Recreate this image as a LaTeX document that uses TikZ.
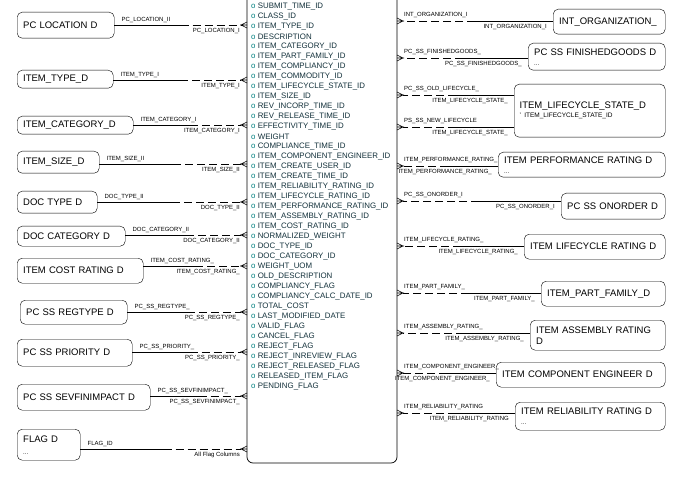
\documentclass[tikz,border=0pt]{standalone}
\usepackage{fontspec}
\setmainfont{Liberation Sans}
\begin{document}
\begin{tikzpicture}[x=1pt,y=-1pt,
  ent/.style={draw,rounded corners=5pt,anchor=north west,inner xsep=5pt,font=\fontsize{9.5}{11}\selectfont,align=left},
  lab/.style={font=\fontsize{6}{7}\selectfont,inner sep=1pt},
  item/.style={font=\fontsize{7.9}{9}\selectfont,anchor=west,inner sep=0pt,text=itc},
  conn/.style={line width=0.6pt},
  dsh/.style={line width=0.6pt,dash pattern=on 8pt off 4pt}]
\definecolor{itc}{RGB}{20,50,60}
\definecolor{oc}{RGB}{0,128,128}
\useasboundingbox (0,0) rectangle (679,478);
\fill[white] (0,0) rectangle (679,478);
% central table
\draw[line width=0.7pt,rounded corners=6pt] (247,-10) -- (247,463) -- (397,463) -- (397,-10);
\node[inner sep=0pt] (tbl) at (322,230) {};
\foreach \t [count=\i] in {SUBMIT\_TIME\_ID,CLASS\_ID,ITEM\_TYPE\_ID,DESCRIPTION,ITEM\_CATEGORY\_ID,ITEM\_PART\_FAMILY\_ID,ITEM\_COMPLIANCY\_ID,ITEM\_COMMODITY\_ID,ITEM\_LIFECYCLE\_STATE\_ID,ITEM\_SIZE\_ID,REV\_INCORP\_TIME\_ID,REV\_RELEASE\_TIME\_ID,EFFECTIVITY\_TIME\_ID,WEIGHT,COMPLIANCE\_TIME\_ID,ITEM\_COMPONENT\_ENGINEER\_ID,ITEM\_CREATE\_USER\_ID,ITEM\_CREATE\_TIME\_ID,ITEM\_RELIABILITY\_RATING\_ID,ITEM\_LIFECYCLE\_RATING\_ID,ITEM\_PERFORMANCE\_RATING\_ID,ITEM\_ASSEMBLY\_RATING\_ID,ITEM\_COST\_RATING\_ID,NORMALIZED\_WEIGHT,DOC\_TYPE\_ID,DOC\_CATEGORY\_ID,WEIGHT\_UOM,OLD\_DESCRIPTION,COMPLIANCY\_FLAG,COMPLIANCY\_CALC\_DATE\_ID,TOTAL\_COST,LAST\_MODIFIED\_DATE,VALID\_FLAG,CANCEL\_FLAG,REJECT\_FLAG,REJECT\_INREVIEW\_FLAG,REJECT\_RELEASED\_FLAG,RELEASED\_ITEM\_FLAG,PENDING\_FLAG}
  \node[item] (it\i) at (251,{7+(\i-1)*9.98}) {\textcolor{oc}{o} \t};
\newcommand\lent[9]{%
  \node[ent,minimum width={#4-#2},minimum height={#5-#3},text width={#4-#2-12}] (#1) at (#2,#3) {#7};
  \coordinate (#1t) at (247,#6);
  \coordinate (#1m) at ({(#4+247)/2},#6);
  \draw[conn] (#1.east |- #1t) -- (#1m);
  \draw[dsh] (#1m) -- ([xshift=-6pt]#1t);
  \draw[conn] ([xshift=-7pt]#1t) -- (#1t) ([xshift=-6pt]#1t) -- ([yshift=-3pt]#1t) ([xshift=-6pt]#1t) -- ([yshift=3pt]#1t);
  \node[lab,anchor=south west] at ([xshift=6pt,yshift=1pt]#1.east |- #1t) {#8};
  \node[lab,anchor=north east] at ([xshift=-6pt,yshift=-2pt]#1t) {#9};}
\newcommand\rent[9]{%
  \node[ent,minimum width={#4-#2},minimum height={#5-#3},text width={#4-#2-12}] (#1) at (#2,#3) {#7};
  \coordinate (#1t) at (397,#6);
  \coordinate (#1m) at ({(#2+397)/2},#6);
  \draw[conn] (#1.west |- #1t) -- (#1m);
  \draw[dsh] (#1m) -- ([xshift=6pt]#1t);
  \draw[conn] ([xshift=7pt]#1t) -- (#1t) ([xshift=6pt]#1t) -- ([yshift=-3pt]#1t) ([xshift=6pt]#1t) -- ([yshift=3pt]#1t);
  \node[lab,anchor=south west] at ([xshift=6pt,yshift=2pt]#1t) {#8};
  \node[lab,anchor=north east] at ([xshift=-5pt,yshift=-2pt]#1.west |- #1t) {#9};}
\lent{a}{17}{12}{114}{38}{25}{PC LOCATION D}{PC\_LOCATION\_II}{PC\_LOCATION\_I}
\lent{b}{17}{70}{113}{88}{80}{ITEM\_TYPE\_D}{ITEM\_TYPE\_I}{ITEM\_TYPE\_I}
\lent{c}{17}{116}{133}{134}{125}{ITEM\_CATEGORY\_D}{ITEM\_CATEGORY\_I}{ITEM\_CATEGORY\_I}
\lent{d}{17}{151}{99}{173}{164}{ITEM\_SIZE\_D}{ITEM\_SIZE\_II}{ITEM\_SIZE\_II}
\lent{e}{17}{191}{97}{213}{202}{DOC TYPE D}{DOC\_TYPE\_II}{DOC\_TYPE\_II}
\lent{f}{17}{226}{125}{246}{235}{DOC CATEGORY D}{DOC\_CATEGORY\_II}{DOC\_CATEGORY\_II}
\lent{g}{17}{258}{143}{283}{266}{ITEM COST RATING D}{ITEM\_COST\_RATING\_}{ITEM\_COST\_RATING\_}
\lent{h}{20}{300}{127}{324}{312}{PC SS REGTYPE D}{PC\_SS\_REGTYPE\_}{PC\_SS\_REGTYPE\_}
\lent{i}{17}{339}{132}{366}{352}{PC SS PRIORITY D}{PC\_SS\_PRIORITY\_}{PC\_SS\_PRIORITY\_}
\lent{j}{17}{384}{150}{410}{396}{PC SS SEVFINIMPACT D}{PC\_SS\_SEVFINIMPACT\_}{PC\_SS\_SEVFINIMPACT\_}
\lent{k}{17}{429}{80}{460}{449}{FLAG D\\[1pt]{\fontsize{6}{7}\selectfont ...}}{FLAG\_ID}{All Flag Columns}
\rent{A}{553}{9}{665}{34}{21}{INT\_ORGANIZATION\_}{INT\_ORGANIZATION\_I}{INT\_ORGANIZATION\_I}
\rent{B}{528}{43}{665}{70}{58}{PC SS FINISHEDGOODS D\\[-1pt]{\fontsize{6}{7}\selectfont ...}}{PC\_SS\_FINISHEDGOODS\_}{PC\_SS\_FINISHEDGOODS\_}
\node[ent,minimum width=151,minimum height=53,text width=140,anchor=north west] (C) at (514,84) {ITEM\_LIFECYCLE\_STATE\_D\\[-2pt]{\fontsize{6.5}{7}\selectfont ' ITEM\_LIFECYCLE\_STATE\_ID}\\[14pt]};
\foreach \yy/\n/\u in {95/C1/PC\_SS\_OLD\_LIFECYCLE\_,127/C2/PS\_SS\_NEW\_LIFECYCLE}{
  \coordinate (\n t) at (397,\yy);
  \coordinate (\n m) at (456,\yy);
  \draw[conn] (C.west |- \n t) -- (\n m);
  \draw[dsh] (\n m) -- ([xshift=6pt]\n t);
  \draw[conn] ([xshift=7pt]\n t) -- (\n t) ([xshift=6pt]\n t) -- ([yshift=-3pt]\n t) ([xshift=6pt]\n t) -- ([yshift=3pt]\n t);
  \node[lab,anchor=south west] at ([xshift=6pt,yshift=2pt]\n t) {\u};
  \node[lab,anchor=north east] at ([xshift=-5pt,yshift=-2pt]C.west |- \n t) {ITEM\_LIFECYCLE\_STATE\_};}
\rent{D}{498}{152}{665}{177}{166}{ITEM PERFORMANCE RATING D\\[-1pt]{\fontsize{6}{7}\selectfont ...}}{ITEM\_PERFORMANCE\_RATING\_}{ITEM\_PERFORMANCE\_RATING\_}
\rent{E}{561}{193}{665}{219}{201}{PC SS ONORDER D}{PC\_SS\_ONORDER\_I}{PC\_SS\_ONORDER\_I}
\rent{F}{524}{234}{665}{259}{246}{ITEM LIFECYCLE RATING D}{ITEM\_LIFECYCLE\_RATING\_}{ITEM\_LIFECYCLE\_RATING\_}
\rent{G}{541}{281}{665}{306}{293}{ITEM\_PART\_FAMILY\_D}{ITEM\_PART\_FAMILY\_}{ITEM\_PART\_FAMILY\_}
\rent{H}{530}{320}{665}{350}{333}{ITEM ASSEMBLY RATING\\D}{ITEM\_ASSEMBLY\_RATING\_}{ITEM\_ASSEMBLY\_RATING\_}
\rent{I}{496}{362}{665}{387}{373}{ITEM COMPONENT ENGINEER D}{ITEM\_COMPONENT\_ENGINEER\_}{ITEM\_COMPONENT\_ENGINEER\_}
\rent{J}{515}{402}{665}{430}{413}{ITEM RELIABILITY RATING D\\[-1pt]{\fontsize{6}{7}\selectfont ...}}{ITEM\_RELIABILITY\_RATING}{ITEM\_RELIABILITY\_RATING}
\end{tikzpicture}
\end{document}
